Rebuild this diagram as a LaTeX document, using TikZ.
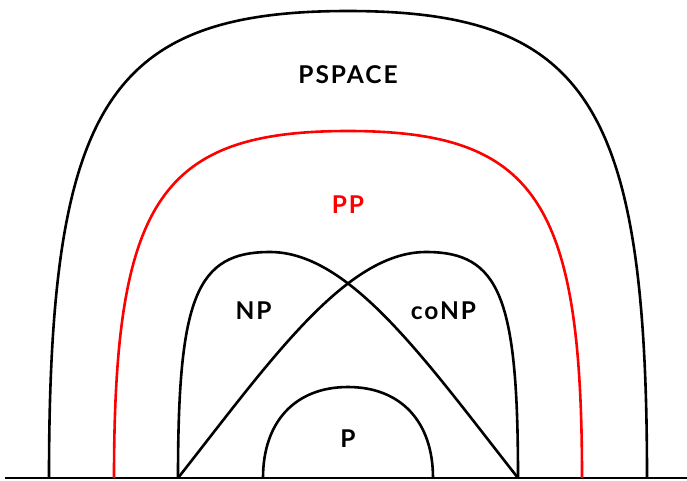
\documentclass[tikz,border=0pt]{standalone}
\usepackage{fontspec}
\setmainfont{Lato}[BoldFont=* Bold]
\newfontfamily\lblfont{Lato}[UprightFont=* Bold, LetterSpace=8]
\begin{document}
\begin{tikzpicture}[x=1pt,y=-1pt,
  curve/.style={line width=2.6pt},
  redcurve/.style={line width=2.6pt, color=red},
  lbl/.style={font=\lblfont\fontsize{24.5}{24.5}\selectfont, inner sep=0pt, anchor=base}]
\useasboundingbox (0,0) rectangle (687,480);
% baseline
\coordinate (bl) at (5,478);
\coordinate (br) at (687,478);
\draw[curve] (bl) -- (br);
% PSPACE
\draw[curve] (49,478) .. controls (49,104.4) and (108.8,11) .. (348,11)
  .. controls (587.2,11) and (647,104.4) .. (647,478);
% PP
\draw[redcurve] (114,478) .. controls (114,200.4) and (160.8,131) .. (348,131)
  .. controls (535.2,131) and (582,200.4) .. (582,478);
% NP
\draw[curve] (178,478) .. controls (178,297) and (196.4,252) .. (270,252)
  .. controls (350,252) and (425.3,360.1) .. (518,478);
% coNP
\draw[curve] (518,478) .. controls (518,297) and (499.6,252) .. (426,252)
  .. controls (346,252) and (270.7,360.1) .. (178,478);
% P
\draw[curve] (263,478) .. controls (263,421.6) and (295.3,387) .. (348,387)
  .. controls (400.7,387) and (433,421.6) .. (433,478);
% labels
\node[lbl] (pspace) at (348,83.5) {PSPACE};
\node[lbl, text=red] (pp) at (348,213) {PP};
\node[lbl] (np) at (253.5,319) {NP};
\node[lbl] (conp) at (443.5,319) {coNP};
\node[lbl] (p) at (348,447) {P};
\end{tikzpicture}
\end{document}
